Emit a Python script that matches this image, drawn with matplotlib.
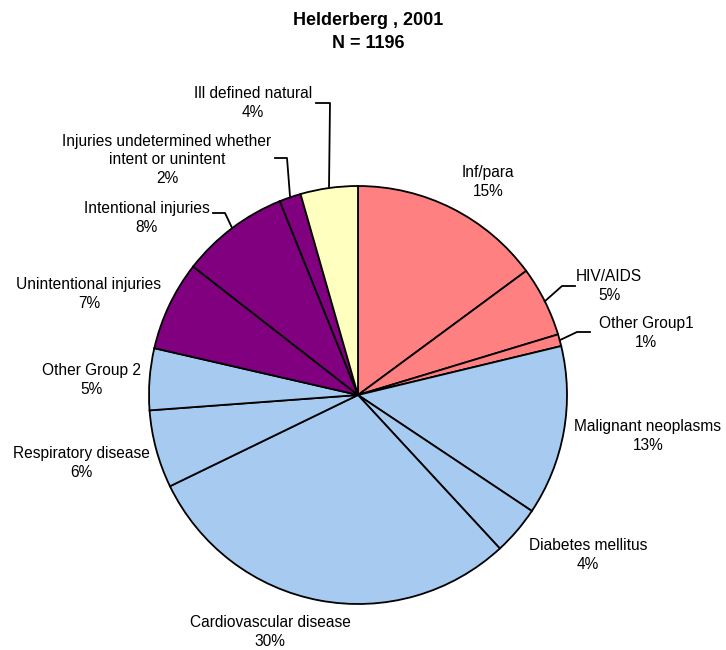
import numpy as np
import matplotlib
matplotlib.use("Agg")
import matplotlib.pyplot as plt

plt.rcParams['font.family'] = ['Liberation Sans', 'DejaVu Sans']

# deaths by cause, Helderberg 2001 (N = 1196), clockwise from 12 o'clock
causes = ["Inf/para", "HIV/AIDS", "Other Group1", "Malignant neoplasms",
          "Diabetes mellitus", "Cardiovascular disease", "Respiratory disease",
          "Other Group 2", "Unintentional injuries", "Intentional injuries",
          "Injuries undetermined whether\nintent or unintent", "Ill defined natural"]
counts = [178, 65, 11, 157, 45, 355, 72, 57, 83, 100, 20, 53]
groups = ["g1", "g1", "g1", "g2", "g2", "g2", "g2", "g2", "inj", "inj", "inj", "ill"]

group_colors = {"g1": "#FF8080", "g2": "#A6CAF0", "inj": "#800080", "ill": "#FFFFC0"}

# label block centres in pixel space (top-down y)
label_pos = [(488, 182), (609, 286), (646, 333), (648, 436), (588, 555),
             (270, 632), (81, 463), (91, 380), (89, 294), (147, 218),
             (167, 160), (253, 103)]
# leader lines: index -> (elbow point, end point near text), pixel space
leaders = {1: ((562, 286), (575, 286)),
           2: ((577, 332), (590, 332)),
           9: ((225, 213), (213, 213)),
           10: ((287, 158), (275, 158)),
           11: ((330, 103), (316, 103))}

W, H = 726, 650
cx, cy, r = 358, H - 395, 209

fig = plt.figure(figsize=(7.26, 6.5), dpi=100)
ax = fig.add_axes([0, 0, 1, 1])

total = sum(counts)
colors = [group_colors[g] for g in groups]
wedges, _ = ax.pie(counts, startangle=90, counterclock=False, colors=colors,
                   center=(cx, cy), radius=r,
                   wedgeprops=dict(edgecolor="black", linewidth=1.3))

ax.set_xlim(0, W)
ax.set_ylim(0, H)
ax.set_aspect("equal")
ax.axis("off")

for i, (name, c) in enumerate(zip(causes, counts)):
    pct = round(100 * c / total)
    x, y = label_pos[i]
    ax.text(x, H - y, f"{name}\n{pct}%", ha="center", va="center",
            fontsize=11.2, linespacing=1.3)
    if i in leaders:
        w = wedges[i]
        mid = np.deg2rad((w.theta1 + w.theta2) / 2)
        ex, ey = cx + r * np.cos(mid), cy + r * np.sin(mid)
        (bx, by), (tx, ty) = leaders[i]
        ax.plot([ex, bx, tx], [ey, H - by, H - ty], color="black", lw=1.3)

ax.text(W / 2 + 5, H - 32, "Helderberg , 2001\nN = 1196", ha="center", va="center",
        fontsize=13, fontweight="bold", linespacing=1.4)

fig.savefig("out.png", dpi=100)
